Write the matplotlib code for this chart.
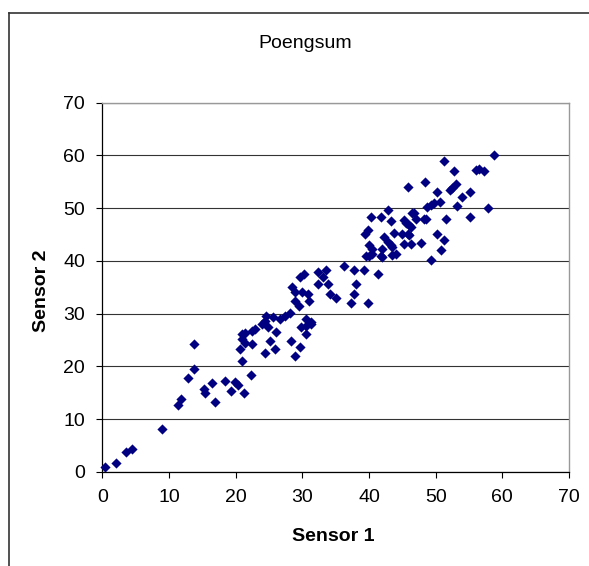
import matplotlib
matplotlib.use('Agg')
import matplotlib.pyplot as plt
from matplotlib.lines import Line2D

plt.rcParams['font.family'] = ['Liberation Sans', 'DejaVu Sans']

# values
sensor1 = [0.4, 2.0, 3.5, 4.4, 9.0, 11.4, 11.8, 12.9, 13.8, 13.8,
           15.3, 15.4, 16.4, 16.9, 18.4, 19.3, 19.9, 20.4, 21.3, 22.3,
           20.9, 20.6, 21.4, 20.9, 21.4, 21.0, 22.4, 22.9, 22.4, 23.9,
           24.4, 24.6, 25.6, 26.6, 27.4, 28.1, 24.9, 26.1, 25.1, 24.4,
           25.9, 28.3, 29.6, 28.9, 29.8, 30.6, 31.3, 30.6, 30.6, 31.3,
           28.9, 29.5, 28.4, 28.9, 29.9, 30.8, 31.0, 29.6, 30.3, 32.3,
           33.6, 33.1, 32.3, 33.8, 34.1, 35.0, 36.3, 37.8, 39.3, 38.0,
           37.8, 37.3, 39.8, 41.3,
           39.5, 40.0, 40.5, 41.8, 42.0, 43.5, 44.0, 43.3, 43.5, 42.8,
           42.0, 40.0, 40.5, 39.4, 39.8, 42.3, 43.8, 45.0, 45.8, 45.3,
           46.3, 47.8, 46.0, 46.3, 45.5, 46.0, 45.3, 40.3, 41.8, 42.9,
           43.3, 46.4, 46.8, 47.0, 48.2, 48.6, 48.7, 49.3, 49.7, 50.7,
           49.3, 50.2, 51.2, 50.8, 51.6, 53.2, 55.2, 57.8, 50.2, 52.5,
           53.0, 52.2, 53.9, 55.2, 45.8, 48.4, 51.2, 52.7, 56.0, 56.5,
           57.2, 58.7]
sensor2 = [1.0, 1.8, 3.8, 4.4, 8.2, 12.7, 13.9, 17.8, 19.5, 24.2,
           15.8, 15.0, 16.9, 13.3, 17.2, 15.3, 17.0, 16.4, 15.0, 18.4,
           21.0, 23.3, 24.5, 26.1, 26.4, 25.2, 26.8, 27.1, 24.2, 28.0,
           28.7, 29.6, 29.3, 29.0, 29.6, 30.2, 27.4, 26.5, 24.9, 22.6,
           23.3, 24.9, 23.6, 22.0, 27.4, 27.7, 28.5, 26.1, 29.0, 28.0,
           32.5, 31.5, 35.0, 34.1, 34.1, 33.8, 32.5, 36.9, 37.6, 37.9,
           38.2, 36.9, 35.7, 35.7, 33.8, 32.9, 39.1, 38.2, 38.2, 35.7,
           33.7, 32.0, 32.0, 37.6,
           41.0, 41.0, 41.4, 41.0, 40.7, 41.1, 41.4, 43.0, 42.6, 43.6,
           42.3, 43.0, 42.3, 45.2, 45.9, 44.5, 45.3, 45.2, 45.2, 43.3,
           43.3, 43.4, 44.9, 46.4, 47.2, 46.8, 47.8, 48.3, 48.3, 49.6,
           47.5, 49.1, 49.0, 48.0, 48.0, 47.9, 50.2, 50.6, 50.9, 51.1,
           40.2, 45.2, 44.0, 42.0, 47.9, 50.4, 48.3, 50.1, 53.0, 53.9,
           54.5, 53.4, 52.2, 53.0, 54.1, 54.9, 59.0, 57.0, 57.2, 57.5,
           57.1, 60.0]
ticks = [0, 10, 20, 30, 40, 50, 60, 70]

fig = plt.figure(figsize=(5.89, 5.66), dpi=100)
ax = fig.add_axes([102.3 / 589, 1 - 472 / 566, 466.7 / 589, 369.3 / 566])

ax.scatter(sensor1, sensor2, marker='D', s=27, color='#000080', linewidths=0, zorder=3, clip_on=False)

ax.set_xlim(0, 70)
ax.set_ylim(0, 70)
ax.set_xticks(ticks)
ax.set_yticks(ticks)
ax.yaxis.grid(True, color='#333333', linewidth=0.8)
ax.set_axisbelow(True)

for side in ['top', 'right']:
    ax.spines[side].set_color('#999999')
    ax.spines[side].set_linewidth(1.0)
for side in ['left', 'bottom']:
    ax.spines[side].set_color('black')
    ax.spines[side].set_linewidth(0.9)

ax.tick_params(axis='both', direction='out', length=4.3, width=0.8, labelsize=14, pad=8)

ax.set_xlabel('Sensor 1', fontsize=14, fontweight='bold', va='center')
ax.xaxis.set_label_coords(0.495, -0.176)
ax.set_ylabel('Sensor 2', fontsize=14, fontweight='bold', va='center')
ax.yaxis.set_label_coords(-0.13, 0.49)

fig.text(305 / 589, 1 - 44 / 566, 'Poengsum', fontsize=14, ha='center', va='center')

# chart area border (only left and top are inside the picture)
fig.add_artist(Line2D([8.5 / 589, 8.5 / 589], [0, 1 - 12.7 / 566], transform=fig.transFigure, color='#333333', linewidth=1.2))
fig.add_artist(Line2D([8.5 / 589, 1], [1 - 12.7 / 566, 1 - 12.7 / 566], transform=fig.transFigure, color='#333333', linewidth=1.2))

fig.savefig('out.png', dpi=100)
